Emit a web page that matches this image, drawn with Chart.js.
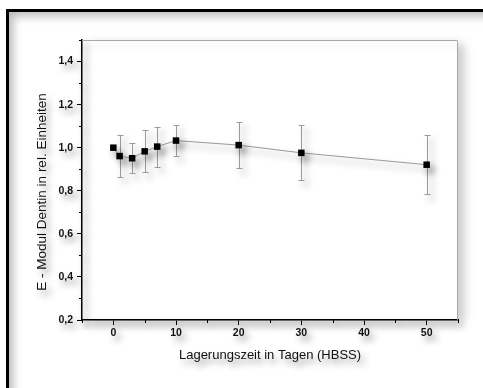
<!DOCTYPE html>
<html>
<head>
<meta charset="utf-8">
<script src="https://cdn.jsdelivr.net/npm/chart.js@4"></script>
<style>
  html,body{margin:0;padding:0;background:#fff;overflow:hidden;}
  #wrap{position:relative;width:483px;height:388px;overflow:hidden;}
  #frame{position:absolute;left:6px;top:9px;width:600px;height:500px;border:3px solid #000;box-shadow:inset 4px 4px 10px rgba(0,0,0,0.28);}
  canvas{position:absolute;left:0;top:0;}
</style>
</head>
<body>
<div id="wrap"><div id="frame"></div><canvas id="chart" width="483" height="388"></canvas></div>
<script>
/* ===== Data ===== */
const days    = [0, 1, 3, 5, 7, 10, 20, 30, 50];
const modulus = [1.00, 0.961, 0.951, 0.983, 1.005, 1.033, 1.012, 0.976, 0.921];
const errors  = [0, 0.097, 0.069, 0.097, 0.093, 0.073, 0.108, 0.128, 0.136];
const xMajor  = [0, 10, 20, 30, 40, 50];
const xMinor  = [-5, 5, 15, 25, 35, 45, 55];
const yMajor  = [0.2, 0.4, 0.6, 0.8, 1.0, 1.2, 1.4];
const yMinor  = [0.3, 0.5, 0.7, 0.9, 1.1, 1.3, 1.5];
const xTitle  = 'Lagerungszeit in Tagen (HBSS)';
const yTitle  = 'E - Modul Dentin in rel. Einheiten';

Chart.defaults.font.family = '"Liberation Sans", Arial, sans-serif';
Chart.defaults.color = '#111';

/* ===== Helpers ===== */
function dropShadow(ctx){
  ctx.shadowColor='rgba(0,0,0,0.45)'; ctx.shadowBlur=7; ctx.shadowOffsetX=4; ctx.shadowOffsetY=5;
}

/* ===== Plugins ===== */
// white panel with soft shadow, then global drop shadow for everything drawn after
const shadowFx = {
  id:'shadowFx',
  beforeDraw(chart){
    const {ctx, chartArea:a} = chart;
    ctx.save();
    ctx.shadowColor='rgba(0,0,0,0.2)'; ctx.shadowBlur=10; ctx.shadowOffsetX=6; ctx.shadowOffsetY=4;
    ctx.fillStyle='#fff'; ctx.fillRect(a.left,a.top,a.right-a.left,a.bottom-a.top);
    ctx.restore();
    ctx.save();
    dropShadow(ctx);
  },
  afterDraw(chart){
    const {ctx, chartArea:a, scales:{x,y}} = chart;
    // top/right panel edges
    ctx.save();
    ctx.shadowColor='rgba(0,0,0,0.15)';
    ctx.strokeStyle='#a8a8a8'; ctx.lineWidth=1;
    ctx.beginPath();
    ctx.moveTo(a.left, a.top+0.5); ctx.lineTo(a.right-0.5, a.top+0.5); ctx.lineTo(a.right-0.5, a.bottom);
    ctx.stroke();
    ctx.restore();
    // minor ticks
    ctx.strokeStyle='#000'; ctx.lineWidth=1;
    ctx.beginPath();
    xMinor.forEach(v=>{ const px=Math.round(x.getPixelForValue(v))+0.5; ctx.moveTo(px,a.bottom); ctx.lineTo(px,a.bottom+3); });
    yMinor.forEach(v=>{ const py=Math.round(y.getPixelForValue(v))+0.5; ctx.moveTo(a.left,py); ctx.lineTo(a.left-3,py); });
    ctx.stroke();
    // y axis title
    ctx.save();
    ctx.translate(42.5, 192); ctx.rotate(-Math.PI/2);
    ctx.font='13.5px "Liberation Sans", Arial, sans-serif';
    ctx.fillStyle='#111'; ctx.textAlign='center'; ctx.textBaseline='middle';
    ctx.fillText(yTitle, 0, 0);
    ctx.restore();
    ctx.restore();
  }
};

// vertical error bars with caps
const errorBars = {
  id:'errorBars',
  beforeDatasetsDraw(chart){
    const {ctx, scales:{x,y}} = chart;
    ctx.save(); ctx.strokeStyle='#9a9a9a'; ctx.lineWidth=1;
    days.forEach((d,i)=>{
      if(!errors[i]) return;
      const px=Math.round(x.getPixelForValue(d))+0.5;
      const top=Math.round(y.getPixelForValue(modulus[i]+errors[i]))+0.5;
      const bot=Math.round(y.getPixelForValue(modulus[i]-errors[i]))+0.5;
      ctx.beginPath();
      ctx.moveTo(px,top); ctx.lineTo(px,bot);
      ctx.moveTo(px-3,top); ctx.lineTo(px+3,top);
      ctx.moveTo(px-3,bot); ctx.lineTo(px+3,bot);
      ctx.stroke();
    });
    ctx.restore();
  }
};

/* ===== Chart ===== */
new Chart(document.getElementById('chart'), {
  type:'line',
  data:{datasets:[{
    data:days.map((d,i)=>({x:d, y:modulus[i]})),
    borderColor:'#9a9a9a', borderWidth:1, tension:0,
    pointStyle:'rect', pointRadius:4.6, pointBackgroundColor:'#000', pointBorderColor:'#000', pointBorderWidth:0
  }]},
  options:{
    responsive:false, animation:false,
    layout:{padding:{left:0, top:40, right:25, bottom:0}},
    plugins:{legend:{display:false}, tooltip:{enabled:false}},
    scales:{
      x:{
        type:'linear', min:-5, max:55,
        afterBuildTicks:s=>{ s.ticks=xMajor.map(v=>({value:v})); },
        afterFit:s=>{ s.height=68; },
        ticks:{callback:v=>String(v), padding:2, font:{size:10.5, weight:'bold'}, maxRotation:0},
        grid:{drawOnChartArea:false, tickLength:5, color:'#000'},
        border:{color:'#000', width:1.5},
        title:{display:true, text:xTitle, font:{size:13}, color:'#111', padding:{top:0, bottom:25}}
      },
      y:{
        type:'linear', min:0.2, max:1.5,
        afterBuildTicks:s=>{ s.ticks=yMajor.map(v=>({value:v})); },
        afterFit:s=>{ s.width=82; },
        ticks:{callback:v=>v.toFixed(1).replace('.', ','), padding:4, font:{size:10.5, weight:'bold'}},
        grid:{drawOnChartArea:false, tickLength:5, color:'#000'},
        border:{color:'#000', width:1.5}
      }
    }
  },
  plugins:[shadowFx, errorBars]
});
</script>
</body>
</html>
